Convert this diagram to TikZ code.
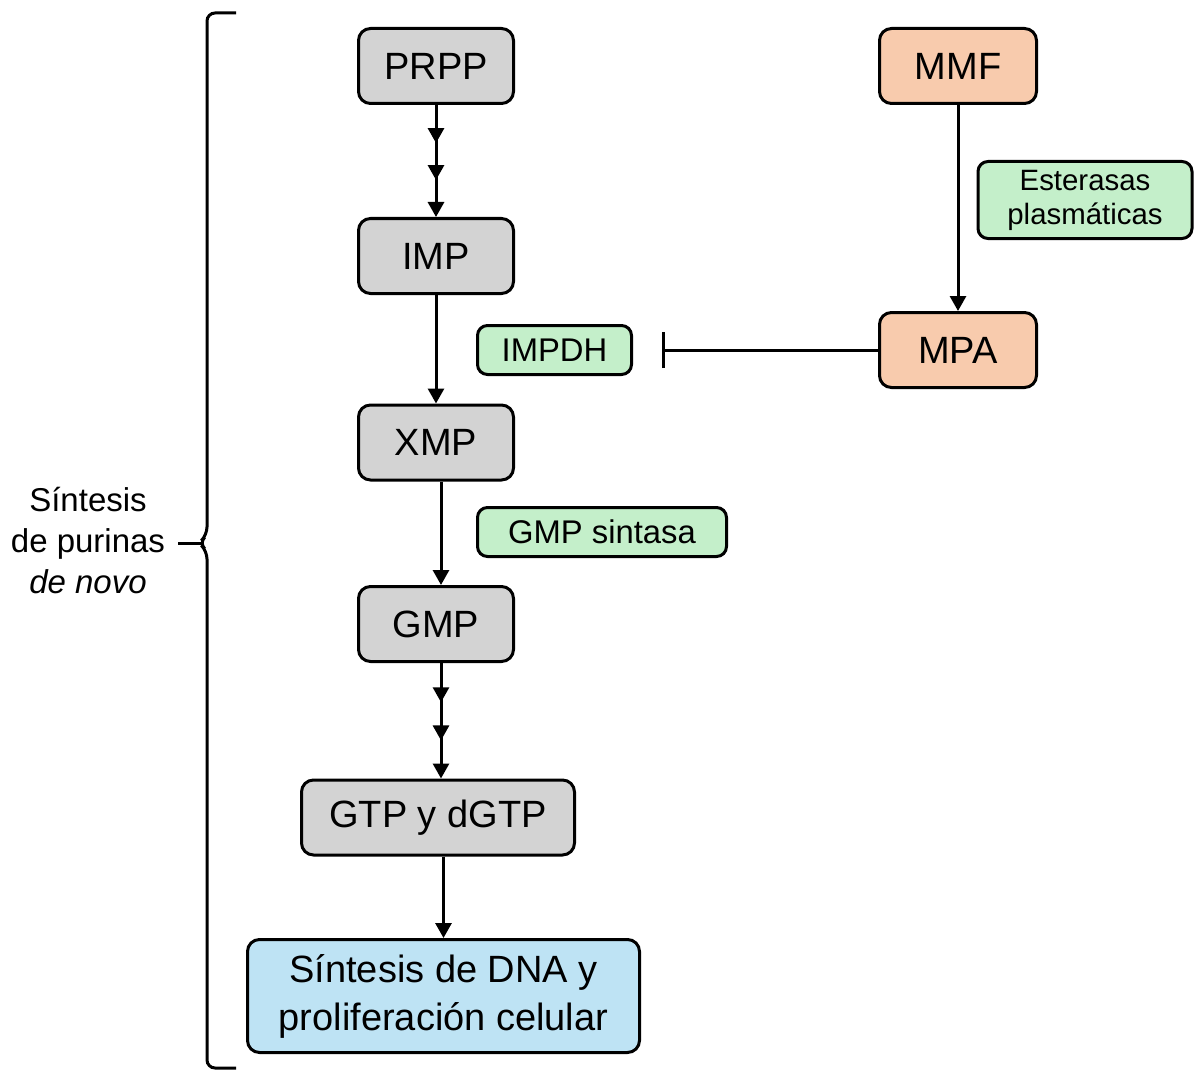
\documentclass[tikz,border=0pt]{standalone}
\usepackage{fontspec}
\setmainfont{Liberation Sans}
\usetikzlibrary{arrows.meta,decorations.markings}
\definecolor{metabGray}{RGB}{211,211,211}
\definecolor{drugPeach}{RGB}{248,203,173}
\definecolor{enzGreen}{RGB}{196,239,202}
\definecolor{outBlue}{RGB}{190,227,244}

\begin{document}
\begin{tikzpicture}[x=0.5pt,y=-0.5pt,
  box/.style={draw,line width=1.5pt,rounded corners=6pt,align=center,inner sep=0pt},
  metab/.style={box,fill=metabGray,minimum width=77.5pt,minimum height=37.5pt,font=\fontsize{19}{23}\selectfont},
  drug/.style={box,fill=drugPeach,minimum width=78.5pt,minimum height=37.5pt,font=\fontsize{19}{23}\selectfont},
  enzyme/.style={box,fill=enzGreen,minimum height=24.5pt,rounded corners=5pt,font=\fontsize{16.4}{17}\selectfont},
  flow/.style={line width=1.5pt,-{Triangle[length=7.5pt,width=8pt]}},
  multistep/.style={flow,postaction={decorate},
    decoration={markings,
      mark=at position 0.34 with {\arrow{Triangle[length=7.5pt,width=8pt]}},
      mark=at position 0.67 with {\arrow{Triangle[length=7.5pt,width=8pt]}}}}]
\useasboundingbox (0,0) rectangle (1195,1070);

% ruta de novo
\node[metab] (prpp) at (436,66) {PRPP};
\node[metab] (imp) at (436,256) {IMP};
\node[metab] (xmp) at (436,442.5) {XMP};
\node[metab] (gmp) at (436,624) {GMP};
\node[metab,minimum width=136.5pt] (gtp) at (438,817.5) {GTP y dGTP};
\node[box,fill=outBlue,minimum width=196pt,minimum height=56.5pt,font=\fontsize{19}{24}\selectfont] (dna) at (443.5,996) {Síntesis de DNA y\\proliferación celular};

% enzimas
\node[enzyme,minimum width=77pt] (impdh) at (554.5,350) {IMPDH};
\node[enzyme,minimum width=124.5pt] (gmps) at (602,532) {GMP sintasa};
\node[enzyme,minimum width=107pt,minimum height=38.5pt,font=\fontsize{14.7}{17}\selectfont] (ester) at (1085,200) {Esterasas\\plasmáticas};

% farmaco
\node[drug] (mmf) at (958,66) {MMF};
\node[drug] (mpa) at (958,350) {MPA};

\draw[multistep] (prpp.south) -- (imp.north);
\draw[flow] (imp.south) -- (xmp.north);
\draw[flow] ([xshift=2.5pt]xmp.south) -- ([xshift=2.5pt]gmp.north);
\draw[multistep] ([xshift=2.5pt]gmp.south) -- ([xshift=1.5pt]gtp.north);
\draw[flow] (gtp.south -| dna.north) -- (dna.north);
\draw[flow] (mmf.south) -- (mpa.north);
\draw[line width=1.5pt,-{Bar[width=18pt]},shorten >=14.5pt] (mpa.west) -- (impdh.east);

% llave
\draw[line width=1.5pt,rounded corners=4pt] (236,13) -- (207,13) -- (207,535) -- (199,543) -- (207,551) -- (207,1068) -- (236,1068);
\draw[line width=1.5pt] (201,543) -- (178,543);
\node[align=center,font=\fontsize{16.5}{20.5}\selectfont] (synth) at (88,541) {Síntesis\\de purinas\\\textit{de novo}};
\end{tikzpicture}
\end{document}
